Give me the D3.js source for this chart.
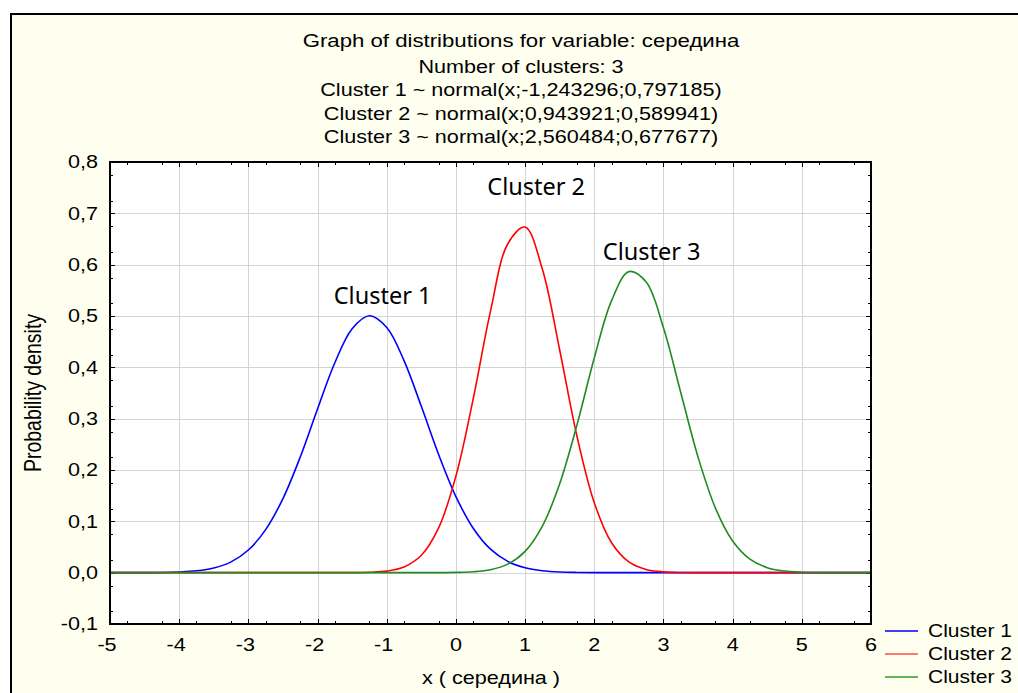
<!DOCTYPE html>
<html>
<head>
<meta charset="utf-8">
<script src="https://cdn.jsdelivr.net/npm/d3@7"></script>
<style>
  html, body { margin: 0; padding: 0; background: #fff; }
  svg { display: block; }
  .lbl { font-family: "Liberation Sans", Arial, sans-serif; fill: #000; }
  .ann { font-family: "Noto Sans", sans-serif; fill: #000; }
</style>
</head>
<body>
<svg id="chart" width="1018" height="693"></svg>
<script>
// header lines of the graph
const titleLines = [
  "Graph of distributions for variable: середина",
  "Number of clusters: 3",
  "Cluster 1 ~ normal(x;-1,243296;0,797185)",
  "Cluster 2 ~ normal(x;0,943921;0,589941)",
  "Cluster 3 ~ normal(x;2,560484;0,677677)"
];
const seriesNames = ["Cluster 1", "Cluster 2", "Cluster 3"];
const seriesColors = ["#0000ff", "#ff0000", "#1e8c1e"];
const legendColors = ["#0000ff", "#ff4a4a", "#2e9a2e"];

// axis ticks
const xTicks = [-5, -4, -3, -2, -1, 0, 1, 2, 3, 4, 5, 6];
const yTicks = [-0.1, 0.0, 0.1, 0.2, 0.3, 0.4, 0.5, 0.6, 0.7, 0.8];

// sample grid (x) and density readings for each cluster
const xs = [-5, -4.75, -4.5, -4.25, -4, -3.75, -3.5, -3.25, -3, -2.75, -2.5, -2.25,
  -2, -1.75, -1.5, -1.25, -1, -0.75, -0.5, -0.25, 0, 0.25, 0.5, 0.75, 1, 1.25,
  1.5, 1.75, 2, 2.25, 2.5, 2.75, 3, 3.25, 3.5, 3.75, 4, 4.25, 4.5, 4.75, 5,
  5.25, 5.5, 5.75, 6];
const cluster1 = [0, 0, 0.0001, 0.0004, 0.0013, 0.0036, 0.0091, 0.0210, 0.0441,
  0.0839, 0.1444, 0.2254, 0.3189, 0.4089, 0.4751, 0.5004, 0.4776, 0.4132, 0.3240,
  0.2302, 0.1483, 0.0866, 0.0458, 0.0220, 0.0096, 0.0038, 0.0013, 0.0004, 0.0001,
  0, 0, 0, 0, 0, 0, 0, 0, 0, 0, 0, 0, 0, 0, 0, 0];
const cluster2 = [0, 0, 0, 0, 0, 0, 0, 0, 0, 0, 0, 0, 0, 0, 0.0001, 0.0007, 0.0030,
  0.0110, 0.0338, 0.0872, 0.1880, 0.3386, 0.5095, 0.6407, 0.6732, 0.5912, 0.4337,
  0.2658, 0.1362, 0.0583, 0.0209, 0.0062, 0.0016, 0.0003, 0.0001, 0, 0, 0, 0, 0,
  0, 0, 0, 0, 0];
const cluster3 = [0, 0, 0, 0, 0, 0, 0, 0, 0, 0, 0, 0, 0, 0, 0, 0, 0, 0, 0, 0.0001,
  0.0005, 0.0018, 0.0058, 0.0166, 0.0415, 0.0908, 0.1731, 0.2879, 0.4182, 0.5300,
  0.5864, 0.5662, 0.4771, 0.3509, 0.2252, 0.1262, 0.0617, 0.0263, 0.0098, 0.0032,
  0.0009, 0.0002, 0, 0, 0];

// in-plot labels: [name, x, y] in data units
const annotations = [
  ["Cluster 1", -1.06, 0.523],
  ["Cluster 2", 1.16, 0.736],
  ["Cluster 3", 2.83, 0.610]
];

const SX = 1.2; // the original picture is stretched horizontally
const W = 1018, H = 693;
const P = { left: 110, right: 871, top: 162, bottom: 624 };

const svg = d3.select("#chart");

// outer panel
svg.append("rect").attr("x", 11).attr("y", 14).attr("width", W).attr("height", H)
  .attr("fill", "#fffff0").attr("stroke", "#000").attr("stroke-width", 2);

// stretched text helper
function stext(parent, x, y, str, size, anchor, cls) {
  const g = parent.append("g").attr("transform", `translate(${x},${y}) scale(${SX},1)`);
  return g.append("text").attr("class", cls || "lbl")
    .attr("font-size", size).attr("text-anchor", anchor || "middle")
    .attr("dy", "0.35em").text(str);
}

// title block
const titleY = [41, 67, 90, 114, 137];
titleLines.forEach((t, i) => stext(svg, 521, titleY[i], t, i === 0 ? 18.5 : 18, "middle"));

const x = d3.scaleLinear().domain([-5, 6]).range([P.left, P.right]);
const y = d3.scaleLinear().domain([-0.1, 0.8]).range([P.bottom, P.top]);

// plot area
svg.append("rect").attr("x", P.left).attr("y", P.top)
  .attr("width", P.right - P.left).attr("height", P.bottom - P.top)
  .attr("fill", "#fff");

// gridlines
const grid = svg.append("g").attr("stroke", "#d4d4d4").attr("stroke-width", 1);
grid.selectAll(".gx").data(xTicks.slice(1, -1)).join("line")
  .attr("x1", d => Math.round(x(d)) + 0.5).attr("x2", d => Math.round(x(d)) + 0.5)
  .attr("y1", P.top).attr("y2", P.bottom);
grid.selectAll(".gy").data(yTicks.slice(1, -1)).join("line")
  .attr("y1", d => Math.round(y(d)) + 0.5).attr("y2", d => Math.round(y(d)) + 0.5)
  .attr("x1", P.left).attr("x2", P.right);

// ticks (inward), majors and minors at the quarter points
const ticks = svg.append("g").attr("stroke", "#000").attr("stroke-width", 1);
const xMinor = [];
xTicks.slice(0, -1).forEach(t => { xMinor.push(t + 0.25, t + 0.75); });
const yMinor = [];
yTicks.slice(0, -1).forEach(t => { yMinor.push(t + 0.025, t + 0.075); });
[[xTicks, 5], [xMinor, 3]].forEach(([arr, len]) => {
  arr.forEach(d => {
    const px = Math.round(x(d)) + 0.5;
    ticks.append("line").attr("x1", px).attr("x2", px).attr("y1", P.bottom).attr("y2", P.bottom - len);
    ticks.append("line").attr("x1", px).attr("x2", px).attr("y1", P.top).attr("y2", P.top + len);
  });
});
[[yTicks, 5], [yMinor, 3]].forEach(([arr, len]) => {
  arr.forEach(d => {
    const py = Math.round(y(d)) + 0.5;
    ticks.append("line").attr("y1", py).attr("y2", py).attr("x1", P.left).attr("x2", P.left + len);
    ticks.append("line").attr("y1", py).attr("y2", py).attr("x1", P.right).attr("x2", P.right - len);
  });
});

// curves
const line = d3.line().x((d, i) => x(xs[i])).y(d => y(d)).curve(d3.curveCatmullRom.alpha(0.5));
[cluster1, cluster2, cluster3].forEach((s, i) => {
  svg.append("path").datum(s).attr("d", line)
    .attr("fill", "none").attr("stroke", seriesColors[i]).attr("stroke-width", 1.6);
});

// plot frame
svg.append("rect").attr("x", P.left).attr("y", P.top)
  .attr("width", P.right - P.left).attr("height", P.bottom - P.top)
  .attr("fill", "none").attr("stroke", "#000").attr("stroke-width", 2);

// tick labels
const fmt = d => d.toFixed(1).replace(".", ",");
yTicks.forEach(d => stext(svg, 98, y(d), fmt(d), 18, "end"));
xTicks.forEach(d => stext(svg, x(d) - (d < 0 ? 3 : 0), 645, String(d), 18, "middle"));

// axis titles
stext(svg, 491, 678, "x ( середина )", 18, "middle");
svg.append("text").attr("class", "lbl").attr("font-size", 19.5)
  .attr("text-anchor", "middle").attr("dy", "0.35em")
  .attr("transform", `translate(33,${(P.top + P.bottom) / 2}) rotate(-90) scale(1,${SX})`)
  .text("Probability density");

// annotations
annotations.forEach(([name, ax, ay]) => {
  svg.append("text").attr("class", "ann").attr("font-size", 23.5)
    .attr("text-anchor", "middle").attr("x", x(ax)).attr("y", y(ay))
    .text(name);
});

// legend
const legY = [631, 654, 677];
seriesNames.forEach((n, i) => {
  svg.append("line").attr("x1", 885).attr("x2", 918)
    .attr("y1", legY[i]).attr("y2", legY[i])
    .attr("stroke", legendColors[i]).attr("stroke-width", 1.6);
  stext(svg, 928, legY[i], n, 17.5, "start");
});
</script>
</body>
</html>
